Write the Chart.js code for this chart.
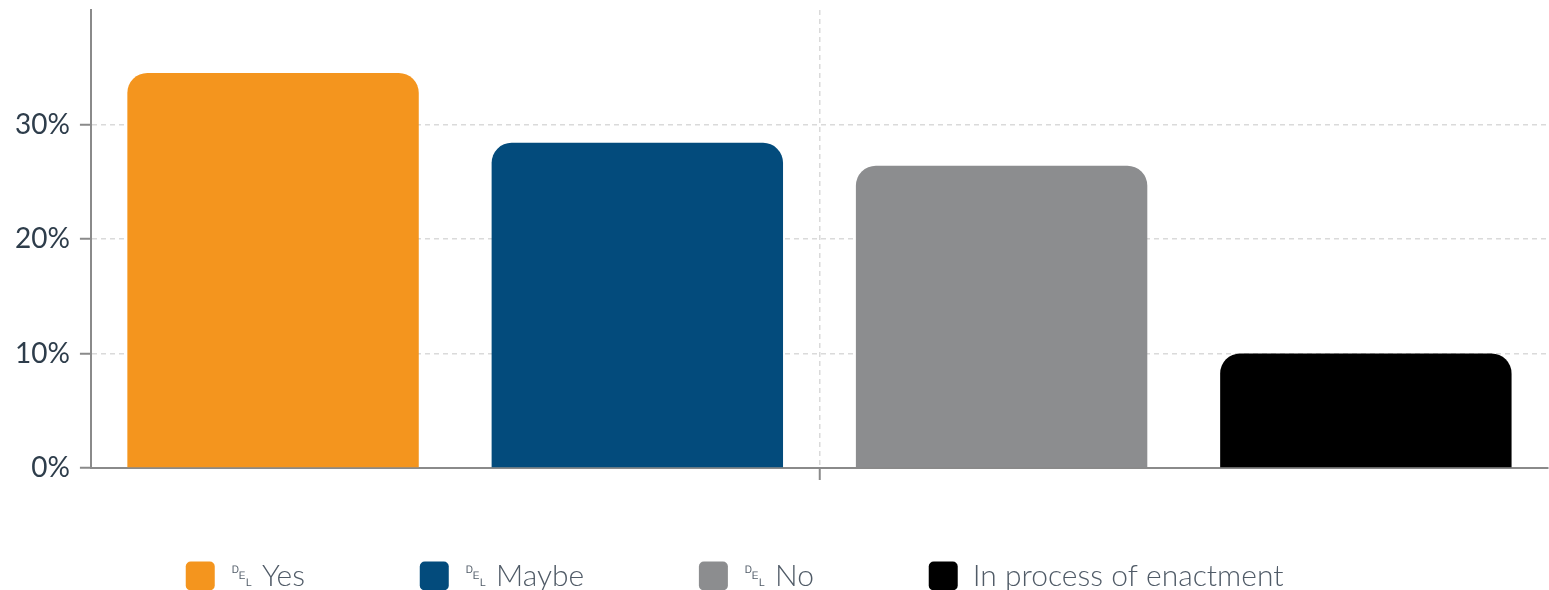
<!DOCTYPE html>
<html>
<head>
<meta charset="utf-8">
<script src="https://cdn.jsdelivr.net/npm/chart.js@4/dist/chart.umd.min.js"></script>
<style>
  html, body { margin: 0; padding: 0; background: #fff; }
  #wrap { position: relative; width: 1549px; height: 601px; }
</style>
</head>
<body>
<div id="wrap"><canvas id="chart"></canvas></div>
<script>
// survey answers, share of respondents (%)
const categories = [''];
const seriesLabels = ['\u2421 Yes', '\u2421 Maybe', '\u2421 No', 'In process of enactment'];
const seriesValues = [34.5, 28.4, 26.4, 10.0];
const seriesColors = ['#F4951E', '#034B7C', '#8C8D8F', '#000000'];
const yTicks = [0, 10, 20, 30];

const AXIS = '#8a8a8a';
const GRID = '#dadada';

// legend spacing: labels get a little trailing room so items spread out
const legendPad = '\u2003\u2003\u2003  ';

const datasets = seriesLabels.map((label, i) => ({
  label: label + legendPad,
  data: [seriesValues[i]],
  backgroundColor: seriesColors[i],
  borderRadius: { topLeft: 20, topRight: 20 },
  borderSkipped: 'start',
  barPercentage: 0.8,
  categoryPercentage: 1.0,
}));

new Chart(document.getElementById('chart').getContext('2d'), {
  type: 'bar',
  data: { labels: categories, datasets },
  options: {
    responsive: true,
    maintainAspectRatio: false,
    animation: false,
    layout: {
      padding: { left: 5, right: 1, top: 10, bottom: 0 },
    },
    plugins: {
      tooltip: { enabled: false },
      legend: {
        display: true,
        position: 'bottom',
        align: 'center',
        labels: {
          color: '#505b67',
          boxWidth: 29,
          boxHeight: 29,
          useBorderRadius: true,
          borderRadius: 5,
          padding: 31,
          font: { family: 'Lato', size: 30, weight: '300' },
        },
      },
    },
    scales: {
      x: {
        // fixed band under the axis, room for the tick mark only
        afterFit: (scale) => {
          scale.height = 62;
        },
        grid: {
          offset: false,
          color: GRID,
          lineWidth: 1.5,
          tickColor: AXIS,
          tickLength: 12,
          tickWidth: 2,
          tickBorderDash: [1, 0],
        },
        border: { color: AXIS, width: 2, dash: [5, 4] },
        ticks: {
          padding: 5,
          font: { family: 'Lato', size: 16 },
        },
      },
      y: {
        min: 0,
        max: 40,
        afterBuildTicks: (axis) => {
          axis.ticks = yTicks.map((v) => ({ value: v }));
        },
        // no label sits at the top, so drop the reserved half-label space
        afterFit: (scale) => {
          scale.paddingTop = 0;
        },
        grid: {
          color: GRID,
          lineWidth: 1.5,
          tickColor: AXIS,
          tickLength: 11,
          tickWidth: 2,
          tickBorderDash: [1, 0],
        },
        border: { color: AXIS, width: 2, dash: [5, 4] },
        ticks: {
          padding: 10,
          color: '#2e3d4b',
          font: { family: 'Lato', size: 28 },
          callback: (v) => v + '%',
        },
      },
    },
  },
});
</script>
</body>
</html>
